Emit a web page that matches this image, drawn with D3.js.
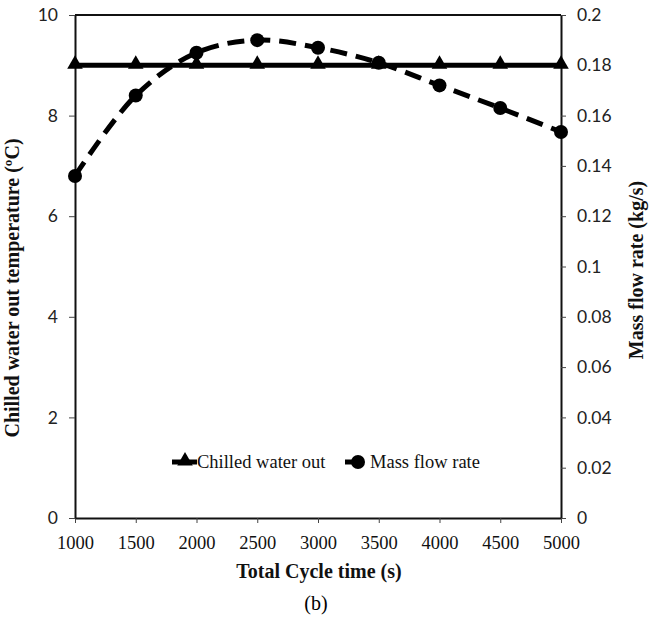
<!DOCTYPE html>
<meta charset="utf-8">
<style>
body {
  margin: 0;
  background: #fff;
}
.tick line {
  stroke: #444;
  stroke-width: 1;
}
.domain {
  stroke: #111;
  stroke-width: 2;
}
.ylab text {
  font-family: Lato, "Open Sans", sans-serif;
  font-size: 17.5px;
  fill: #222;
}
.xlab text {
  font-family: "Liberation Serif", "Times New Roman", serif;
  font-size: 18.5px;
  fill: #111;
}
.title {
  font-family: "Liberation Serif", "Times New Roman", serif;
  font-weight: bold;
  font-size: 20px;
  fill: #111;
}
.legend text {
  font-family: "Liberation Serif", "Times New Roman", serif;
  font-size: 18.5px;
  fill: #111;
}
</style>
<body>
<script src="https://cdn.jsdelivr.net/npm/d3@7"></script>
<script>

var width = 649,
    height = 624;

var cycleTime = [1000, 1500, 2000, 2500, 3000, 3500, 4000, 4500, 5000];
var chilledOut = [9, 9, 9, 9, 9, 9, 9, 9, 9];
var massFlow = [0.136, 0.168, 0.185, 0.190, 0.187, 0.181, 0.172, 0.163, 0.1535];

var xTicks = [1000, 1500, 2000, 2500, 3000, 3500, 4000, 4500, 5000];
var leftTicks = [0, 2, 4, 6, 8, 10];
var rightTicks = [0, 0.02, 0.04, 0.06, 0.08, 0.1, 0.12, 0.14, 0.16, 0.18, 0.2];

// plot box (window.top is reserved, so use other names)
var pLeft = 75, pRight = 561, pTop = 15, pBottom = 518;

var x = d3.scaleLinear().domain([1000, 5000]).range([pLeft, pRight]);
var yL = d3.scaleLinear().domain([0, 10]).range([pBottom, pTop]);
var yR = d3.scaleLinear().domain([0, 0.2]).range([pBottom, pTop]);

var svg = d3.select("body").append("svg")
    .attr("width", width)
    .attr("height", height);

// top border of the box
svg.append("line")
    .attr("x1", pLeft).attr("x2", pRight)
    .attr("y1", pTop).attr("y2", pTop)
    .attr("stroke", "#111").attr("stroke-width", 2);

svg.append("g")
    .attr("class", "xlab")
    .attr("transform", "translate(0," + pBottom + ")")
    .call(d3.axisBottom(x).tickValues(xTicks).tickSize(5).tickSizeOuter(0).tickPadding(13).tickFormat(d3.format("d")));

svg.append("g")
    .attr("class", "ylab")
    .attr("transform", "translate(" + pLeft + ",0)")
    .call(d3.axisLeft(yL).tickValues(leftTicks).tickSize(6).tickSizeOuter(0).tickPadding(11).tickFormat(d3.format("d")));

svg.append("g")
    .attr("class", "ylab")
    .attr("transform", "translate(" + pRight + ",0)")
    .call(d3.axisRight(yR).tickValues(rightTicks).tickSize(5).tickSizeOuter(0).tickPadding(11)
      .tickFormat(function(d) { return String(+d.toFixed(2)); }));

// series
var pts1 = cycleTime.map(function(t, i) { return [x(t), yL(chilledOut[i])]; });
var pts2 = cycleTime.map(function(t, i) { return [x(t), yR(massFlow[i])]; });

svg.append("path")
    .attr("d", d3.line().curve(d3.curveCatmullRom.alpha(0.5))(pts2))
    .attr("fill", "none")
    .attr("stroke", "#000")
    .attr("stroke-width", 5)
    .attr("stroke-dasharray", "17,9");

svg.selectAll(".dot")
    .data(pts2)
  .enter().append("circle")
    .attr("cx", function(d) { return d[0]; })
    .attr("cy", function(d) { return d[1]; })
    .attr("r", 7)
    .attr("fill", "#000");

svg.append("path")
    .attr("d", d3.line()(pts1))
    .attr("fill", "none")
    .attr("stroke", "#000")
    .attr("stroke-width", 5);

var tri = d3.symbol().type(d3.symbolTriangle).size(105);
svg.selectAll(".tri")
    .data(pts1)
  .enter().append("path")
    .attr("d", tri)
    .attr("transform", function(d) { return "translate(" + d[0] + "," + (d[1] - 1) + ")"; })
    .attr("fill", "#000");

// titles
svg.append("text")
    .attr("class", "title")
    .attr("x", (pLeft + pRight) / 2 + 1)
    .attr("y", 578)
    .attr("text-anchor", "middle")
    .text("Total Cycle time (s)");

svg.append("text")
    .attr("x", 316)
    .attr("y", 610)
    .attr("text-anchor", "middle")
    .style("font-family", "'Liberation Serif', serif")
    .style("font-size", "20px")
    .text("(b)");

svg.append("text")
    .attr("class", "title")
    .attr("transform", "translate(19,288) rotate(-90)")
    .attr("text-anchor", "middle")
    .text("Chilled water out temperature (ºC)");

svg.append("text")
    .attr("class", "title")
    .attr("transform", "translate(643,270) rotate(-90)")
    .attr("text-anchor", "middle")
    .text("Mass flow rate (kg/s)");

// legend
var lg = svg.append("g").attr("class", "legend");
lg.append("line")
    .attr("x1", 172).attr("x2", 197).attr("y1", 462).attr("y2", 462)
    .attr("stroke", "#000").attr("stroke-width", 5);
lg.append("path")
    .attr("d", tri)
    .attr("transform", "translate(185,461)");
lg.append("text").attr("x", 197).attr("y", 468).text("Chilled water out");

lg.append("line")
    .attr("x1", 345).attr("x2", 358).attr("y1", 462).attr("y2", 462)
    .attr("stroke", "#000").attr("stroke-width", 5);
lg.append("circle").attr("cx", 358).attr("cy", 462).attr("r", 7);
lg.append("text").attr("x", 370).attr("y", 468).text("Mass flow rate");

</script>
